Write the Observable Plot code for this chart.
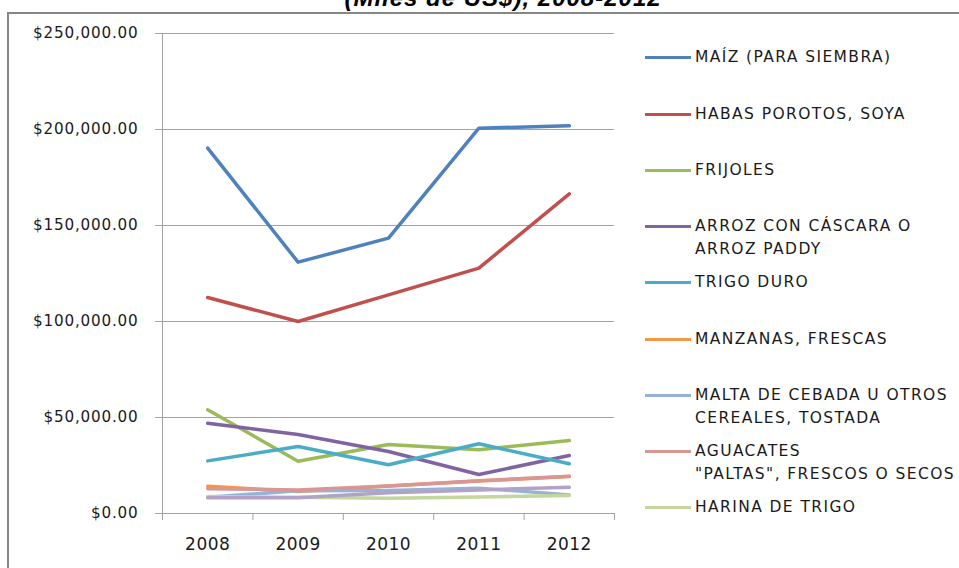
<!DOCTYPE html>
<html>
<head>
<meta charset="utf-8">
<script src="https://cdn.jsdelivr.net/npm/d3@7"></script>
<script src="https://cdn.jsdelivr.net/npm/@observablehq/plot@0.6"></script>
<style>
  html, body { margin: 0; padding: 0; background: #fff; overflow: hidden; }
  #wrap { position: relative; width: 959px; height: 568px; overflow: hidden; font-family: "DejaVu Sans", sans-serif; color: #1a1a1a; }
  #frame { position: absolute; left: 7px; top: 12px; width: 1000px; height: 700px; border: 2px solid #868686; box-sizing: border-box; }
  #title { position: absolute; left: 0; width: 1006px; top: -14px; text-align: center; font-family: "Liberation Sans", Arial, sans-serif; font-weight: bold; font-style: italic; font-size: 24px; line-height: 24px; letter-spacing: 1px; color: #000; white-space: nowrap; }
  #chart { position: absolute; left: 0; top: 0; }
  g[aria-label="y-axis tick label"] { font-size: 15.2px; letter-spacing: 0.8px; }
  g[aria-label="x-axis tick label"] { font-size: 17px; letter-spacing: 0.5px; }
  .leg { position: absolute; left: 645px; font-size: 15.5px; line-height: 22.7px; letter-spacing: 1.4px; white-space: pre; color: #1a1a1a; }
  .leg .sw { position: absolute; left: 0; top: 10px; width: 46px; height: 3px; }
  .leg .tx { margin-left: 50px; }
</style>
</head>
<body>
<div id="wrap">
  <div id="frame"></div>
  <div id="title">(Miles de US$), 2008-2012</div>
  <div id="chart"></div>
</div>
<script>
// ---- data ----
const years = [2008, 2009, 2010, 2011, 2012];
const seriesNames = [
  "MAÍZ (PARA SIEMBRA)",
  "HABAS POROTOS, SOYA",
  "FRIJOLES",
  "ARROZ CON CÁSCARA O\nARROZ PADDY",
  "TRIGO DURO",
  "MANZANAS, FRESCAS",
  "MALTA DE CEBADA U OTROS\nCEREALES, TOSTADA",
  "AGUACATES\n\"PALTAS\", FRESCOS O SECOS",
  "HARINA DE TRIGO",
  "OTROS"
];
const maiz      = [190300, 130900, 143400, 200700, 201900];
const habas     = [112500, 100000, 113900, 127800, 166500];
const frijoles  = [54000, 27200, 35900, 33200, 38000];
const arroz     = [47000, 41100, 32300, 20300, 30200];
const trigoDuro = [27400, 34900, 25400, 36300, 25900];
const manzanas  = [14200, 11500, 14300, 16900, 19300];
const malta     = [8500, 11800, 12000, 13200, 9700];
const aguacates = [12900, 12300, 14300, 17000, 19400];
const harina    = [8900, 8400, 8000, 8600, 9400];
const otros     = [8200, 8200, 10800, 12300, 13700];
const seriesValues = [maiz, habas, frijoles, arroz, trigoDuro, manzanas, malta, aguacates, harina, otros];
const colors = ["#4F81BD", "#C0504D", "#9BBB59", "#8064A2", "#4BACC6", "#F79646", "#95B3D7", "#D99694", "#C3D69B", "#B3A2C7"];
const legendCount = 9; // only nine entries visible in the legend
const yTicks = [0, 50000, 100000, 150000, 200000, 250000];
const xBoundaries = [2007.5, 2008.5, 2009.5, 2010.5, 2011.5, 2012.5];

// ---- build table ----
const rows = [];
seriesNames.forEach((name, i) => {
  years.forEach((yr, j) => rows.push({series: name, year: yr, value: seriesValues[i][j]}));
});

const grid = "#a3a3a3";
const fmt = d => "$" + d3.format(",.2f")(d);

const chart = Plot.plot({
  width: 959,
  height: 568,
  marginLeft: 162,
  marginRight: 345,
  marginTop: 33,
  marginBottom: 55,
  style: {fontFamily: "'DejaVu Sans', sans-serif", color: "#1a1a1a", background: "transparent"},
  x: {type: "linear", domain: [2007.5, 2012.5], axis: null},
  y: {domain: [0, 250000], axis: null},
  color: {domain: seriesNames, range: colors},
  marks: [
    Plot.ruleY(yTicks, {stroke: grid, strokeWidth: 1}),
    Plot.ruleX([2007.5], {stroke: grid, strokeWidth: 1}),
    Plot.axisY({ticks: yTicks, tickSize: 7, tickPadding: 17, tickFormat: fmt, stroke: grid, fill: "#1a1a1a", label: null}),
    Plot.axisX({ticks: xBoundaries, tickSize: 7, tickFormat: () => "", stroke: grid, label: null}),
    Plot.axisX({ticks: years, tickSize: 0, tickPadding: 24, tickFormat: d => String(d), fill: "#1a1a1a", label: null}),
    Plot.line(rows, {x: "year", y: "value", z: "series", stroke: "series", strokeWidth: 3.5, strokeLinejoin: "round", strokeLinecap: "round"})
  ]
});
document.getElementById("chart").appendChild(chart);

// ---- legend ----
const wrap = document.getElementById("wrap");
for (let i = 0; i < legendCount; i++) {
  const d = document.createElement("div");
  d.className = "leg";
  d.style.top = (57.7 + 56.25 * i - 11.35) + "px";
  const sw = document.createElement("div");
  sw.className = "sw";
  sw.style.background = colors[i];
  const tx = document.createElement("div");
  tx.className = "tx";
  tx.textContent = seriesNames[i];
  d.appendChild(sw);
  d.appendChild(tx);
  wrap.appendChild(d);
}
</script>
</body>
</html>
